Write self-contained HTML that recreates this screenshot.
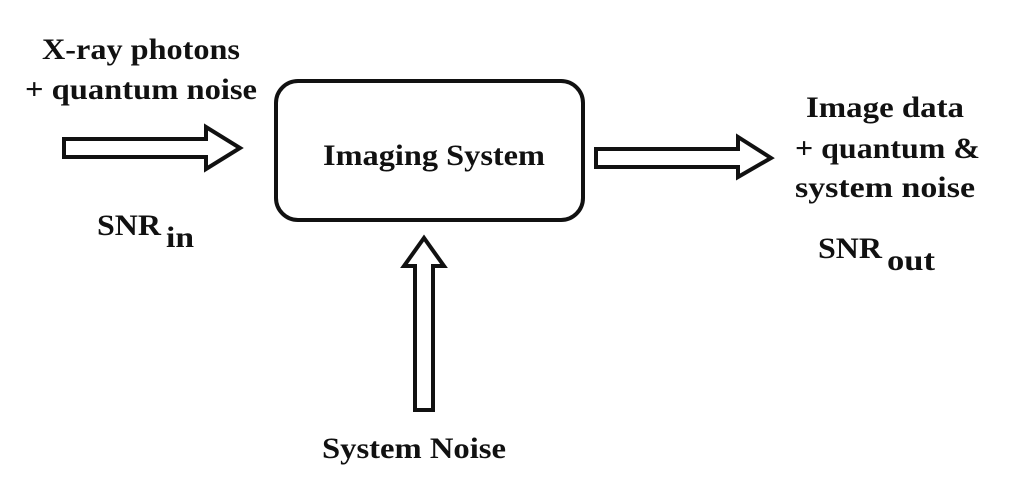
<!DOCTYPE html>
<html><head><style>
body{margin:0;background:#fff;width:1024px;height:487px;overflow:hidden}
svg text{font-family:"Liberation Serif",serif;font-weight:bold;fill:#111}
</style></head><body>
<svg width="1024" height="487" viewBox="0 0 1024 487">
<g fill="none" stroke="#111" stroke-width="4" stroke-linejoin="miter">
<rect x="276" y="81" width="307" height="139" rx="22"/>
<polygon points="64,139 206,139 206,127 240,148 206,169 206,157 64,157"/>
<polygon points="596,149 738,149 738,137 771,158 738,177 738,167 596,167"/>
<polygon points="415,410 415,266 404,266 424,238 444,266 433,266 433,410"/>
</g>
<g font-size="30" lengthAdjust="spacingAndGlyphs">
<text x="42" y="59" textLength="198" lengthAdjust="spacingAndGlyphs">X-ray photons</text>
<text x="25" y="99" textLength="232" lengthAdjust="spacingAndGlyphs">+ quantum noise</text>
<text x="323" y="165" textLength="222" lengthAdjust="spacingAndGlyphs">Imaging System</text>
<text x="806" y="117" textLength="158" lengthAdjust="spacingAndGlyphs">Image data</text>
<text x="795" y="158" textLength="185" lengthAdjust="spacingAndGlyphs">+ quantum &amp;</text>
<text x="795" y="197" textLength="180" lengthAdjust="spacingAndGlyphs">system  noise</text>
<text x="322" y="458" textLength="184" lengthAdjust="spacingAndGlyphs">System Noise</text>
<text x="97" y="235" textLength="64" lengthAdjust="spacingAndGlyphs">SNR</text>
<text x="166" y="247" textLength="28" lengthAdjust="spacingAndGlyphs">in</text>
<text x="818" y="258" textLength="64" lengthAdjust="spacingAndGlyphs">SNR</text>
<text x="887" y="270" textLength="48" lengthAdjust="spacingAndGlyphs">out</text>
</g>
</svg>
</body></html>
